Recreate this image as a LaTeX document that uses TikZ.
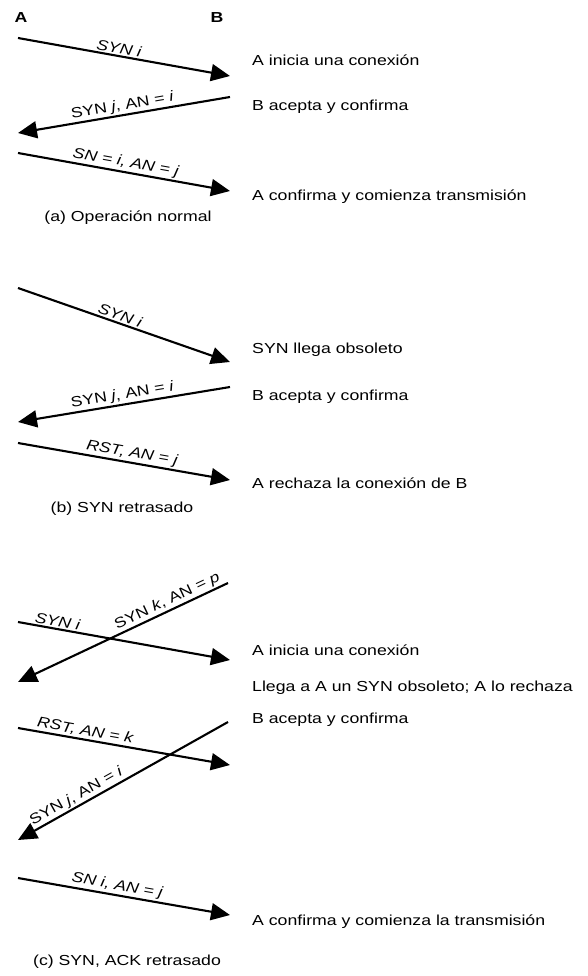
\documentclass[tikz,border=0pt]{standalone}
\usepackage{fontspec}
\setmainfont[FakeStretch=1.22]{Liberation Sans}
\usetikzlibrary{arrows.meta}

\tikzset{
  msg/.style={line width=2.1pt, -{Triangle[length=19pt, width=17pt]}},
  lbl/.style={sloped, above, inner sep=1.5pt},
  note/.style={anchor=west, inner sep=0pt},
  captxt/.style={inner sep=0pt},
}

\begin{document}
\begin{tikzpicture}[x=1pt, y=-1pt, font=\fontsize{14.5}{17}\selectfont]
  \useasboundingbox (0,0) rectangle (587,976);

  \node[font=\fontsize{14.5}{17}\selectfont\bfseries] (hA) at (21,18) {A};
  \node[font=\fontsize{14.5}{17}\selectfont\bfseries] (hB) at (217,18) {B};

  % (a)
  \coordinate (a1s) at (18,38);   \coordinate (a1e) at (230,76);
  \coordinate (a2s) at (230,97);  \coordinate (a2e) at (18,133);
  \coordinate (a3s) at (18,153);  \coordinate (a3e) at (230,191);
  \draw[msg] (a1s) -- node[lbl, pos=0.47] {\itshape SYN i} (a1e);
  \draw[msg] (a2s) -- node[lbl, pos=0.5] {SYN \textit{j}, AN = \textit{i}} (a2e);
  \draw[msg] (a3s) -- node[lbl, pos=0.5] {\itshape SN = i, AN = j} (a3e);
  \node[note] (na1) at (252,60) {A inicia una conexión};
  \node[note] (na2) at (252,107) {B acepta y confirma};
  \node[note] (na3) at (252,197) {A confirma y comienza transmisión};
  \node[captxt] (capa) at (128,218) {(a) Operación normal};

  % (b)
  \coordinate (b1s) at (18,288);  \coordinate (b1e) at (230,362);
  \coordinate (b2s) at (230,387); \coordinate (b2e) at (18,422);
  \coordinate (b3s) at (18,443);  \coordinate (b3e) at (230,480);
  \draw[msg] (b1s) -- node[lbl, pos=0.47] {\itshape SYN i} (b1e);
  \draw[msg] (b2s) -- node[lbl, pos=0.5] {SYN \textit{j}, AN = \textit{i}} (b2e);
  \draw[msg] (b3s) -- node[lbl, pos=0.53] {\itshape RST, AN = j} (b3e);
  \node[note] (nb1) at (252,350) {SYN llega obsoleto};
  \node[note] (nb2) at (252,397) {B acepta y confirma};
  \node[note] (nb3) at (252,483) {A rechaza la conexión de B};
  \node[captxt] (capb) at (122,509) {(b) SYN retrasado};

  % (c)
  \coordinate (c1s) at (18,622);  \coordinate (c1e) at (230,660);
  \coordinate (c2s) at (228,583); \coordinate (c2e) at (18,682);
  \coordinate (c3s) at (18,728);  \coordinate (c3e) at (230,765);
  \coordinate (c4s) at (228,722); \coordinate (c4e) at (18,840);
  \coordinate (c5s) at (18,878);  \coordinate (c5e) at (230,915);
  \draw[msg] (c1s) -- node[lbl, pos=0.18] {\itshape SYN i} (c1e);
  \draw[msg] (c2s) -- node[lbl, pos=0.27] {SYN \textit{k}, AN = \textit{p}} (c2e);
  \draw[msg] (c3s) -- node[lbl, pos=0.31] {\itshape RST, AN = k} (c3e);
  \draw[msg] (c4s) -- node[lbl, pos=0.7] {SYN \textit{j}, AN = \textit{i}} (c4e);
  \draw[msg] (c5s) -- node[lbl, pos=0.46] {\itshape SN i, AN = j} (c5e);
  \node[note] (nc1) at (252,650) {A inicia una conexión};
  \node[note] (nc2) at (252,688) {Llega a A un SYN obsoleto; A lo rechaza};
  \node[note] (nc3) at (252,720) {B acepta y confirma};
  \node[note] (nc4) at (252,922) {A confirma y comienza la transmisión};
  \node[captxt] (capc) at (127,962) {(c) SYN, ACK retrasado};
\end{tikzpicture}
\end{document}
